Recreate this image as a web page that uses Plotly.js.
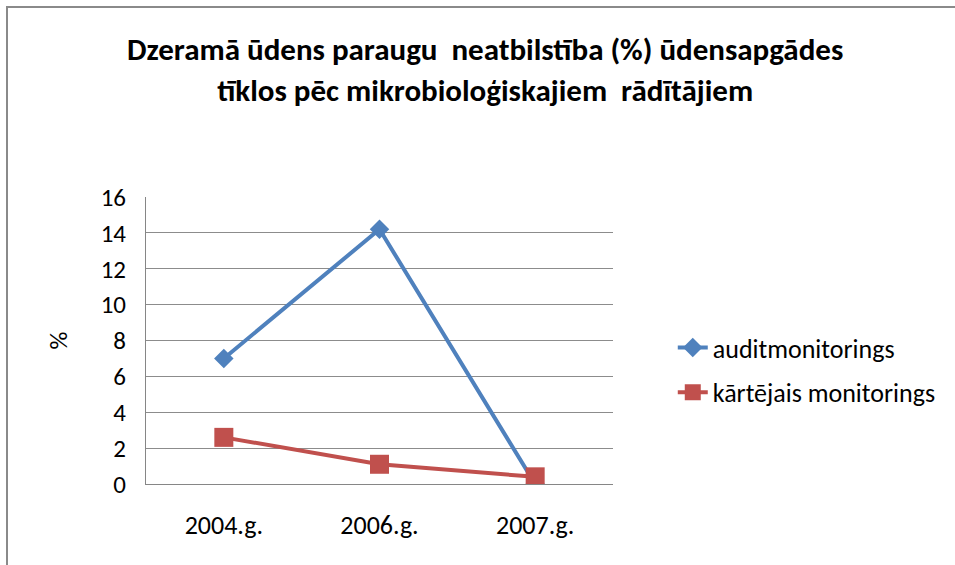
<!DOCTYPE html>
<html>
<head>
<meta charset="utf-8">
<script src="https://cdn.plot.ly/plotly-3.0.1.min.js"></script>
<style>
  html, body { margin: 0; padding: 0; background: #fff; }
  #wrap { position: relative; width: 955px; height: 565px; overflow: hidden; }
  #chart { width: 955px; height: 565px; }
  #frame { position: absolute; left: 6px; top: 6px; width: 960px; height: 570px;
           border-left: 2px solid #8a8a8a; border-top: 2px solid #8a8a8a; pointer-events: none; }
</style>
</head>
<body>
<div id="wrap">
  <div id="chart"></div>
  <div id="frame"></div>
</div>
<script>
const categories = ["2004.g.", "2006.g.", "2007.g."];
const auditValues = [7.0, 14.2, 0.0];
const currentValues = [2.6, 1.1, 0.4];
const seriesNames = ["auditmonitorings", "kārtējais monitorings"];
const yTicks = [0, 2, 4, 6, 8, 10, 12, 14, 16];

const font = "Carlito, Calibri, Lato, 'Open Sans', sans-serif";

const traces = [
  {
    x: categories, y: auditValues, name: seriesNames[0], type: "scatter", mode: "lines+markers",
    line: { color: "#4F81BD", width: 4 },
    marker: { symbol: "diamond", size: 15, color: "#4F81BD" },
    legendgroup: "a"
  },
  {
    x: categories, y: currentValues, name: seriesNames[1], type: "scatter", mode: "lines+markers",
    line: { color: "#C0504D", width: 4 },
    marker: { symbol: "square", size: 19, color: "#C0504D" },
    legendgroup: "b"
  }
];

const layout = {
  width: 955, height: 565,
  margin: { l: 146, r: 342, t: 197, b: 81 },
  paper_bgcolor: "#fff", plot_bgcolor: "#fff",
  font: { family: font, color: "#000", size: 25 },
  title: {
    text: "Dzeramā ūdens paraugu  neatbilstība (%) ūdensapgādes<br>tīklos pēc mikrobioloģiskajiem  rādītājiem",
    font: { family: font, size: 31, color: "#000", weight: "bold" },
    x: 0.508, xanchor: "center", y: 0.893, yanchor: "middle"
  },
  xaxis: {
    type: "category", range: [-0.5, 2.5],
    showgrid: false, showline: true, linecolor: "#868686", linewidth: 1,
    ticks: "outside", ticklen: 18, tickcolor: "rgba(0,0,0,0)",
    tickfont: { family: font, size: 26, color: "#000" },
    zeroline: false, fixedrange: true
  },
  yaxis: {
    range: [0, 16], tickvals: yTicks, ticktext: yTicks.map(String),
    showgrid: true, gridcolor: "#8c8c8c", gridwidth: 1,
    showline: true, linecolor: "#868686", linewidth: 1,
    ticks: "outside", ticklen: 14, tickcolor: "rgba(0,0,0,0)",
    tickfont: { family: font, size: 25, color: "#000" },
    zeroline: false, fixedrange: true,
    title: { text: "%", font: { family: font, size: 25, color: "#000" }, standoff: 25 }
  },
  showlegend: true,
  legend: {
    x: 1.128, xref: "paper", xanchor: "left", y: 0.397, yanchor: "middle",
    font: { family: font, size: 26, color: "#000" },
    tracegroupgap: 8, bgcolor: "rgba(0,0,0,0)"
  }
};

Plotly.newPlot("chart", traces, layout, { displayModeBar: false, staticPlot: true });
</script>
</body>
</html>
